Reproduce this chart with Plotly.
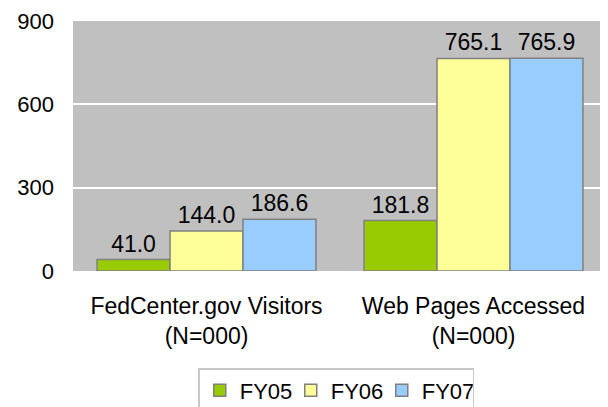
import plotly.graph_objects as go

categories = ["FedCenter.gov Visitors<br>(N=000)", "Web Pages Accessed<br>(N=000)"]
series_names = ["FY05", "FY06", "FY07"]
fy05 = [41.0, 181.8]
fy06 = [144.0, 765.1]
fy07 = [186.6, 765.9]
colors = ["#99CC00", "#FFFF99", "#99CCFF"]
tick_vals = [0, 300, 600, 900]

FONT = "Liberation Sans, Arial, sans-serif"

fig = go.Figure()
for name, vals, col in zip(series_names, [fy05, fy06, fy07], colors):
    fig.add_trace(go.Bar(
        x=categories, y=vals, name=name,
        marker=dict(color=col, line=dict(color="#808080", width=1.5)),
        text=[f"{v:.1f}" for v in vals], textposition="outside",
        textfont=dict(family=FONT, size=23, color="black"),
        cliponaxis=False,
    ))

fig.update_layout(
    width=600, height=399,
    margin=dict(l=65, r=1, t=13, b=136, autoexpand=False),
    paper_bgcolor="white", plot_bgcolor="#C0C0C0",
    barmode="group", bargap=0.18, bargroupgap=0,
    font=dict(family=FONT, size=22, color="black"),
    showlegend=True,
    legend=dict(orientation="h", x=0.493, xanchor="center", y=-0.388, yanchor="top",
                bordercolor="#C8C8C8", borderwidth=1.5, font=dict(family=FONT, size=22),
                itemwidth=30, tracegroupgap=0, entrywidth=46, entrywidthmode="pixels"),
    xaxis=dict(showgrid=False, tickfont=dict(family=FONT, size=23), ticks="",
               showline=False, automargin=False, ticklabelstandoff=19),
    yaxis=dict(range=[0, 900], tickvals=tick_vals, showgrid=True, gridcolor="white",
               gridwidth=1.5, zeroline=False, ticks="", tickfont=dict(family=FONT, size=22),
               ticklabelstandoff=18, automargin=False),
)
fig.write_html("out.html")
